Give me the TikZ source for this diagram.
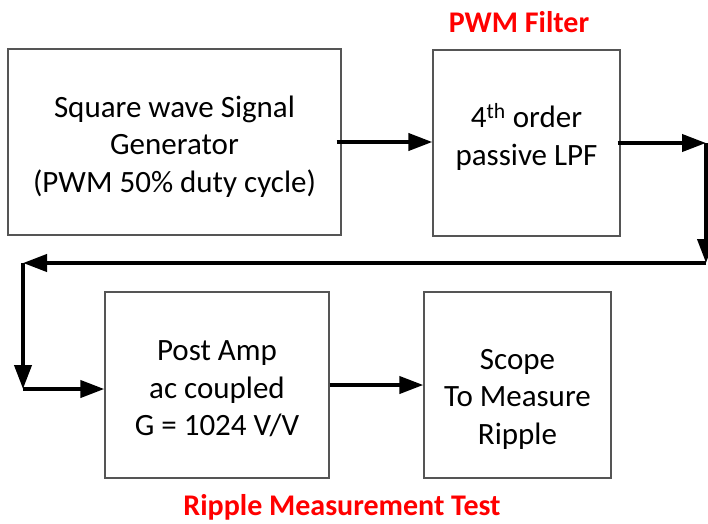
\documentclass[tikz,border=0pt]{standalone}
\usepackage{fontspec}
\setmainfont{Carlito}
\usepackage{xcolor}
\usetikzlibrary{arrows.meta,positioning}
\definecolor{boxGray}{HTML}{555555}
\definecolor{titleRed}{HTML}{FF0000}

\begin{document}
\begin{tikzpicture}[
  x=1pt, y=-1pt,
  font=\fontsize{31}{37.5}\selectfont,
  box/.style={draw=boxGray, line width=1.3pt, fill=white, inner sep=0pt, minimum height=186pt},
  txt/.style={align=center, inner sep=0pt},
  title/.style={text=titleRed, font=\fontsize{30}{36}\selectfont\bfseries},
  arrow/.style={-{Triangle[length=24pt,width=17pt]}, line width=4pt}
]
\useasboundingbox (0,0) rectangle (708,523);

\node[box, minimum width=333pt, label={[txt, yshift=-4.5pt]center:Square wave Signal\\Generator\\(PWM 50\% duty cycle)}] (gen) at (174.5,142) {};
\node[box, minimum width=187pt, label={[txt, yshift=6pt]center:4\textsuperscript{th} order\\passive LPF}] (lpf) at (526.5,143) {};
\node[box, minimum width=224pt, label={[txt, yshift=-4pt]center:Post Amp\\ac coupled\\G = 1024 V/V}] (amp) at (217,385) {};
\node[box, minimum width=187pt, label={[txt, yshift=-14pt]center:Scope\\To Measure\\Ripple}] (scope) at (517.5,385) {};

\node[title] (filtertitle) at (519,22) {PWM Filter};
\node[title] (testtitle) at (342,507) {Ripple Measurement Test};

% return path from the filter back to the amp
\coordinate (c1) at (706,143);
\coordinate (c2) at (706,263);
\coordinate (c3) at (23,263);
\coordinate (c4) at (23,389);

\draw[arrow] ([xshift=-5pt]gen.east) -- (gen.east -| lpf.west);
\draw[arrow] ([xshift=-3pt]lpf.east) -- (c1);
\draw[arrow] (c1) -- (c2);
\draw[arrow] (c2) -- (c3);
\draw[arrow] (c3) -- (c4);
\draw[arrow] (c4) -- (c4 -| amp.west);
\draw[arrow] (amp.east) -- (scope.west);
\end{tikzpicture}
\end{document}
